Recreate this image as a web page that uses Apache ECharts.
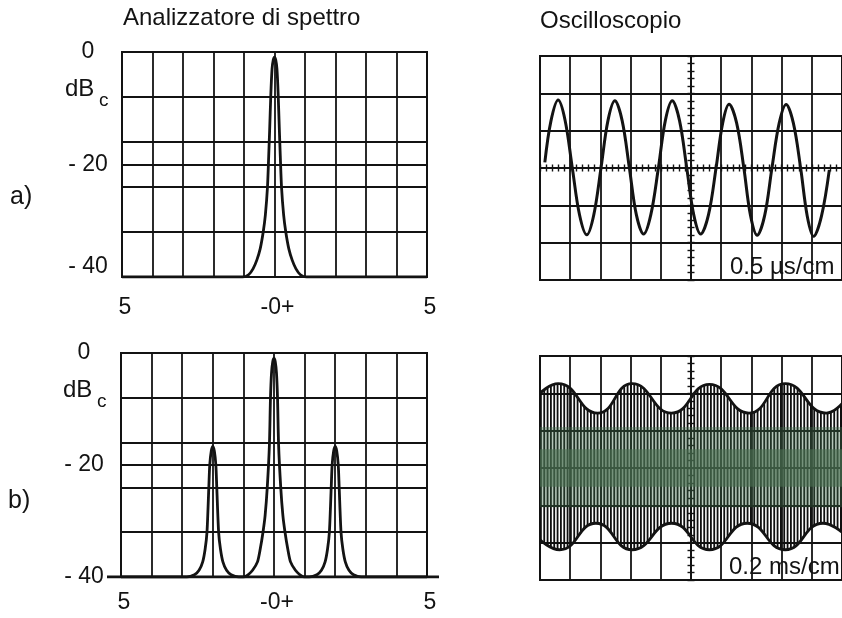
<!DOCTYPE html>
<html><head><meta charset="utf-8">
<script src="https://cdn.jsdelivr.net/npm/echarts@6/dist/echarts.min.js"></script>
<style>html,body{margin:0;padding:0;background:#fff}#c{width:842px;height:618px}</style>
</head><body><div id="c"></div>
<script>
// ---------------- data ----------------
// spectrum analyser: x in divisions (-5 .. 5), y in dBc (0 .. -40)
const freqTickValues = [-5, 0, 5];
const freqTickLabels = ['5', '-0+', '5'];
const levelTickValues = [0, -20, -40];
const levelTickLabels = ['0', '- 20', '- 40'];
const referenceLevel = -20;

// a) unmodulated carrier
const spectrumA = [
  [-5,-40],[-1.05,-40],[-0.85,-39.6],[-0.7,-38.5],[-0.58,-37],[-0.47,-35],[-0.37,-32],[-0.3,-29],
  [-0.23,-24],[-0.19,-18.5],[-0.16,-14],[-0.12,-7.5],[-0.08,-3],[-0.04,-1.4],[0,-0.9],
  [0.04,-1.4],[0.08,-3],[0.12,-7.5],[0.16,-14],[0.19,-18.5],[0.23,-24],[0.3,-29],[0.37,-32],
  [0.47,-35],[0.58,-37],[0.7,-38.5],[0.85,-39.6],[1.05,-40],[5,-40]
];
// b) AM: carrier + two side bands at +/-2 div
const spectrumB = [
  [-5,-40],[-2.85,-40],[-2.6,-39.6],[-2.45,-38.8],[-2.33,-37.3],[-2.25,-35],[-2.19,-32],[-2.13,-24],
  [-2.1,-20],[-2.05,-17.5],[-2,-16.7],[-1.95,-17.5],[-1.9,-20],[-1.87,-24],[-1.81,-32],[-1.75,-35],
  [-1.67,-37.3],[-1.55,-38.8],[-1.4,-39.6],[-1.15,-40],
  [-1.0,-40],[-0.85,-39.6],[-0.7,-38.8],[-0.54,-37.3],[-0.45,-35],[-0.36,-32],[-0.29,-29],[-0.22,-24],
  [-0.15,-16.4],[-0.115,-8],[-0.08,-3.5],[-0.04,-1.5],[0,-0.9],[0.04,-1.5],[0.08,-3.5],[0.115,-8],
  [0.15,-16.4],[0.22,-24],[0.29,-29],[0.36,-32],[0.45,-35],[0.54,-37.3],[0.7,-38.8],[0.85,-39.6],[1.0,-40],
  [1.15,-40],[1.4,-39.6],[1.55,-38.8],[1.67,-37.3],[1.75,-35],[1.81,-32],[1.87,-24],[1.9,-20],[1.95,-17.5],
  [2,-16.7],[2.05,-17.5],[2.1,-20],[2.13,-24],[2.19,-32],[2.25,-35],[2.33,-37.3],[2.45,-38.8],[2.6,-39.6],
  [2.85,-40],[5,-40]
];
// extended -40 dB base line under panel b) (fraction of its own span)
const baselineB = [[0,-40],[1,-40]];

// oscilloscope: x, y in divisions
const scopeSineA = [
  [-4.84,0.15],[-4.64,1.25],[-4.40,1.82],[-4.17,1.28],[-3.93,0],[-3.69,-1.26],[-3.45,-1.79],[-3.22,-1.26],
  [-2.98,0],[-2.75,1.27],[-2.52,1.8],[-2.28,1.27],[-2.04,0],[-1.81,-1.25],[-1.57,-1.77],[-1.33,-1.25],
  [-1.08,0],[-0.85,1.27],[-0.62,1.8],[-0.38,1.27],[-0.14,0],[0.09,-1.25],[0.32,-1.77],[0.58,-1.25],
  [0.83,0],[1.05,1.21],[1.26,1.71],[1.51,1.21],[1.75,0],[1.97,-1.27],[2.19,-1.8],[2.44,-1.27],
  [2.68,0],[2.92,1.2],[3.15,1.7],[3.39,1.2],[3.63,0],[3.85,-1.29],[4.06,-1.83],[4.32,-1.29],[4.58,-0.05]
];
const envelopeUpperB = [
  [-5,2.0],[-4.40,2.26],[-3.09,1.47],[-1.95,2.26],[-0.64,1.47],[0.61,2.24],[1.92,1.47],[3.12,2.26],[4.48,1.47],[5,1.72]
];
const envelopeLowerB = [
  [-5,-1.92],[-4.35,-2.19],[-3.15,-1.48],[-1.95,-2.19],[-0.64,-1.48],[0.61,-2.19],[1.86,-1.48],[3.12,-2.19],[4.37,-1.48],[5,-1.72]
];
const noiseBandOuter = [-1.05, 1.1];
const noiseBandInner = [-0.5, 0.5];

// ---------------- styling / layout ----------------
const INK = '#131313';
const FONT = '"Liberation Sans", Arial, Helvetica, sans-serif';

function hatchPattern() {
  const c = document.createElement('canvas');
  c.width = 10; c.height = 8;
  const g = c.getContext('2d');
  g.fillStyle = '#0e0e0e';
  [0, 3.33, 6.67].forEach(x => g.fillRect(x, 0, 1.8, 8));
  return { image: c, repeat: 'repeat' };
}

const chart = echarts.init(document.getElementById('c'), null, { renderer: 'canvas' });

const gridFrame = { show: true, borderColor: INK, borderWidth: 2, backgroundColor: 'transparent' };
const grids = [
  Object.assign({ left: 122, top: 52, width: 305, height: 225 }, gridFrame),  // 0 spectrum a
  Object.assign({ left: 121, top: 353, width: 306, height: 224 }, gridFrame), // 1 spectrum b
  Object.assign({ left: 540, top: 56, width: 306, height: 224 }, gridFrame),  // 2 scope a
  Object.assign({ left: 540, top: 356, width: 306, height: 224 }, gridFrame), // 3 scope b
  { left: 540, top: 56, width: 306, height: 224, show: false },  // 4 scope a overlay (ticks)
  { left: 540, top: 356, width: 306, height: 224, show: false }, // 5 scope b overlay
  { left: 107, top: 353, width: 332, height: 224, show: false }  // 6 base line b
];

const splitStyle = { show: true, lineStyle: { color: INK, width: 1.8 } };
function specX(grid, labelMargin) {
  return {
    type: 'value', gridIndex: grid, min: -5, max: 5, interval: 1,
    axisLine: { show: false }, axisTick: { show: false }, splitLine: splitStyle,
    axisLabel: {
      show: true, margin: labelMargin, color: INK, fontSize: 23, fontFamily: FONT,
      padding: [0, 0, 0, 6], showMinLabel: true, showMaxLabel: true,
      formatter: v => { const i = freqTickValues.indexOf(v); return i >= 0 ? freqTickLabels[i] : ''; }
    }
  };
}
function scopeAxis(dim, grid, main, ticks) {
  const show = ticks !== false;
  return {
    type: 'value', gridIndex: grid,
    min: dim === 'x' ? -5 : -3, max: dim === 'x' ? 5 : 3, interval: 1,
    axisLine: { show: show, onZero: true, lineStyle: { color: INK, width: 1.8 } },
    axisTick: { show: show, inside: !main, length: 3.5, lineStyle: { color: INK, width: 1.4 } },
    minorTick: { show: show, splitNumber: 5, length: 3.5, lineStyle: { color: INK, width: 1.4 } },
    splitLine: main ? splitStyle : { show: false },
    axisLabel: { show: false }
  };
}
function levelLabelAxis(grid, margin, shiftBottom) {
  return {
    type: 'value', gridIndex: grid, position: 'left', min: -40, max: 0, interval: 20,
    axisLine: { show: false }, axisTick: { show: false }, splitLine: { show: false },
    axisLabel: {
      show: true, margin: margin, align: 'center', color: INK, fontSize: 23, fontFamily: FONT,
      showMinLabel: true, showMaxLabel: true,
      formatter: v => {
        const i = levelTickValues.indexOf(v); if (i < 0) return '';
        return (shiftBottom && v === -40) ? '{up|' + levelTickLabels[i] + '}' : levelTickLabels[i];
      },
      rich: { up: { fontSize: 23, fontFamily: FONT, color: INK, padding: [0, 0, 20, 0] } }
    }
  };
}

const xAxes = [
  specX(0, 19), specX(1, 14),
  scopeAxis('x', 2, true), scopeAxis('x', 3, true, false),
  scopeAxis('x', 4, false), scopeAxis('x', 5, false, false),
  { type: 'value', gridIndex: 6, min: 0, max: 1, show: false }
];
const yAxes = [
  { type: 'value', gridIndex: 0, position: 'left', min: -40, max: 0, interval: 8, axisLine: { show: false }, axisTick: { show: false }, axisLabel: { show: false }, splitLine: splitStyle },
  { type: 'value', gridIndex: 1, position: 'left', min: -40, max: 0, interval: 8, axisLine: { show: false }, axisTick: { show: false }, axisLabel: { show: false }, splitLine: splitStyle },
  scopeAxis('y', 2, true), scopeAxis('y', 3, true),
  scopeAxis('y', 4, false), scopeAxis('y', 5, false),
  { type: 'value', gridIndex: 6, min: -40, max: 0, show: false },
  levelLabelAxis(0, 34, true), levelLabelAxis(1, 37, false)
];

const refLine = {
  silent: true, symbol: 'none', animation: false, label: { show: false },
  lineStyle: { color: INK, width: 1.8, type: 'solid' },
  data: [{ yAxis: referenceLevel }]
};
const traceStyle = { color: INK, width: 2.8 };

function flatBand(v, color, z) {
  return {
    type: 'line', xAxisIndex: 3, yAxisIndex: 3, data: [[-5, v], [5, v]],
    symbol: 'none', silent: true, z: z,
    lineStyle: { width: 0, opacity: 0 }, areaStyle: { color: color, origin: 0 }
  };
}

const series = [
  { type: 'line', xAxisIndex: 0, yAxisIndex: 0, data: spectrumA, symbol: 'none', smooth: 0.25,
    lineStyle: traceStyle, z: 3, markLine: refLine },
  { type: 'line', xAxisIndex: 1, yAxisIndex: 1, data: spectrumB, symbol: 'none', smooth: 0.25,
    lineStyle: traceStyle, z: 3, markLine: refLine },
  { type: 'line', xAxisIndex: 6, yAxisIndex: 6, data: baselineB, symbol: 'none',
    lineStyle: { color: INK, width: 2.8 }, z: 3 },
  { type: 'line', xAxisIndex: 2, yAxisIndex: 2, data: scopeSineA, symbol: 'none', smooth: 0.35,
    lineStyle: { color: INK, width: 3 }, z: 3 },
  { type: 'line', xAxisIndex: 3, yAxisIndex: 3, data: envelopeUpperB, symbol: 'none', smooth: 0.5,
    lineStyle: { color: INK, width: 2.8 }, areaStyle: { color: hatchPattern(), origin: 0, opacity: 1 }, z: 2 },
  { type: 'line', xAxisIndex: 3, yAxisIndex: 3, data: envelopeLowerB, symbol: 'none', smooth: 0.5,
    lineStyle: { color: INK, width: 2.8 }, areaStyle: { color: hatchPattern(), origin: 0, opacity: 1 }, z: 2 },
  flatBand(noiseBandOuter[0], 'rgba(66,110,76,0.55)', 4),
  flatBand(noiseBandOuter[1], 'rgba(66,110,76,0.55)', 4),
  flatBand(noiseBandInner[0], 'rgba(76,112,82,0.85)', 5),
  flatBand(noiseBandInner[1], 'rgba(76,112,82,0.85)', 5)
];

function txt(x, y, text, size, align) {
  return { type: 'text', x: x, y: y, silent: true, z: 10,
    style: { text: text, font: size + 'px ' + FONT, fill: INK,
      align: align || 'left', textAlign: align || 'left', verticalAlign: 'middle', textVerticalAlign: 'middle' } };
}

chart.setOption({
  animation: false,
  backgroundColor: '#ffffff',
  grid: grids,
  xAxis: xAxes,
  yAxis: yAxes,
  series: series,
  graphic: [
    txt(123, 18.5, 'Analizzatore di spettro', 24),
    txt(540, 21, 'Oscilloscopio', 24),
    txt(65, 89, 'dB', 24), txt(99, 101, 'c', 19),
    txt(63, 390, 'dB', 24), txt(97, 402, 'c', 19),
    txt(10, 197, 'a)', 25),
    txt(8, 501, 'b)', 25),
    txt(730, 267, '0.5 \u00B5s/cm', 24),
    txt(729, 567, '0.2 ms/cm', 24)
  ]
});
</script>
</body></html>
